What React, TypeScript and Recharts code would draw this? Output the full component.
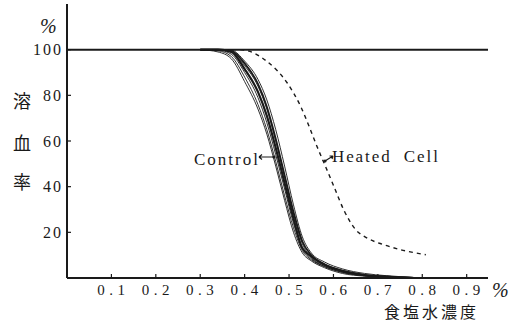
import { LineChart, Line, XAxis, YAxis, ReferenceLine } from 'recharts'

// salt concentration (%) sampled for the control curves
const conc = [0.3, 0.34, 0.37, 0.4, 0.43, 0.45, 0.47, 0.49, 0.51, 0.53, 0.55, 0.58, 0.62, 0.67, 0.72, 0.78]

// hemolysis (%) for each control run
const control1 = [100, 100, 99, 91.5, 81.5, 71, 57, 41.5, 26, 13, 9.5, 5.8, 3, 1.2, 0.5, 0]
const control2 = [100, 100, 99.5, 94, 85, 75, 61, 45, 29, 16, 10, 6, 3.2, 1.4, 0.6, 0]
const control3 = [100, 99.5, 97, 88, 76, 65, 51, 36, 22, 12, 8, 5, 2.5, 1, 0.3, 0]
const control4 = [100, 99, 96, 86, 74, 63, 49, 34, 20, 11, 7.5, 4.5, 2, 0.8, 0.2, 0]
const control5 = [100, 100, 99.8, 95, 87, 78, 65, 49, 32, 18, 11, 7, 4, 2, 1, 0.3]
const control6 = [100, 100, 99, 93, 84, 74, 60, 44, 28, 15, 9, 5.5, 3, 1.3, 0.8, 0.2]
const control7 = [100, 99.8, 98, 90, 79, 68, 54, 39, 24, 13, 8.5, 5, 2.5, 1, 0.4, 0]

// heated cells
const heatedConc = [0.3, 0.39, 0.45, 0.496, 0.526, 0.548, 0.563, 0.582, 0.601, 0.623, 0.65, 0.676, 0.713, 0.751, 0.808]
const heatedPct = [100, 100, 94.9, 85.4, 75.2, 65, 57.6, 48.9, 40.1, 29.9, 21.2, 17.5, 14.6, 12.4, 10.2]

const xTicks = [0.1, 0.2, 0.3, 0.4, 0.5, 0.6, 0.7, 0.8, 0.9]
const yTicks = [20, 40, 60, 80, 100]

const controls = [
  { values: control1, width: 2.2 },
  { values: control2, width: 1.8 },
  { values: control3, width: 0.9 },
  { values: control4, width: 0.9 },
  { values: control5, width: 0.9 },
  { values: control6, width: 0.9 },
  { values: control7, width: 0.9 },
]

const toRows = (xs: number[], ys: number[]) => xs.map((x, i) => ({ x, v: ys[i] }))

const ink = '#1a1a1a'
const serif = '"Liberation Serif", serif'
const cjk = '"Noto Sans CJK JP", sans-serif'

function XTick(props: any) {
  const { x, y, payload } = props
  return (
    <g>
      <line x1={x} x2={x} y1={y} y2={y - 4} stroke={ink} strokeWidth={1.2} />
      <text x={x + 2} y={y + 17} textAnchor="middle" fontFamily={serif} fontSize={15} letterSpacing={4.5} fill={ink}>
        {payload.value.toFixed(1)}
      </text>
    </g>
  )
}

function YTick(props: any) {
  const { x, y, payload } = props
  return (
    <g>
      <line x1={x} x2={x + 4} y1={y} y2={y} stroke={ink} strokeWidth={1.2} />
      <text x={x - 4} y={y + 5.5} textAnchor="end" fontFamily={serif} fontSize={16} letterSpacing={2} fill={ink}>
        {payload.value}
      </text>
    </g>
  )
}

export default function App() {
  return (
    <div style={{ position: 'absolute', left: 0, top: 0, width: 531, height: 322, background: '#fff' }}>
      <LineChart width={531} height={322} margin={{ top: 4, right: 43, left: 0, bottom: 0 }}>
        <XAxis
          type="number"
          dataKey="x"
          domain={[0, 0.948]}
          ticks={xTicks}
          height={44}
          tickSize={0}
          tickMargin={0}
          tickLine={false}
          tick={XTick}
          axisLine={{ stroke: ink, strokeWidth: 2 }}
          allowDataOverflow
        />
        <YAxis
          type="number"
          domain={[0, 120]}
          ticks={yTicks}
          width={67}
          tickSize={0}
          tickMargin={0}
          tickLine={false}
          tick={YTick}
          axisLine={{ stroke: ink, strokeWidth: 2 }}
        />
        <ReferenceLine y={100} stroke={ink} strokeWidth={2} />
        {controls.map((c, i) => (
          <Line
            key={i}
            data={toRows(conc, c.values)}
            dataKey="v"
            type="monotone"
            stroke={ink}
            strokeWidth={c.width}
            dot={false}
            isAnimationActive={false}
          />
        ))}
        <Line
          data={toRows(heatedConc, heatedPct)}
          dataKey="v"
          type="monotone"
          stroke={ink}
          strokeWidth={1.4}
          strokeDasharray="4 4"
          dot={false}
          isAnimationActive={false}
        />
      </LineChart>
      <svg width={531} height={322} style={{ position: 'absolute', left: 0, top: 0, pointerEvents: 'none' }}>
        <text x={40} y={33} fontFamily={serif} fontStyle="italic" fontSize={20} fill={ink}>%</text>
        <text x={492} y={297} fontFamily={serif} fontStyle="italic" fontSize={20} fill={ink}>%</text>
        <text x={13} y={108} fontFamily={cjk} fontSize={18} fill={ink}>溶</text>
        <text x={13} y={150} fontFamily={cjk} fontSize={18} fill={ink}>血</text>
        <text x={13} y={189} fontFamily={cjk} fontSize={18} fill={ink}>率</text>
        <text x={384} y={318} fontFamily={cjk} fontSize={16} letterSpacing={3} fill={ink}>食塩水濃度</text>
        <text x={194} y={165} fontFamily={serif} fontSize={17} letterSpacing={2} fill={ink}>Control</text>
        <text x={332} y={162} fontFamily={serif} fontSize={17} letterSpacing={1.9} fill={ink} style={{ whiteSpace: 'pre' }}>Heated  Cell</text>
        <g stroke={ink} strokeWidth={1.2} fill="none">
          <path d="M259 157 L274 157 M259 157 l3 -2.5 M259 157 l3 2.5" />
          <circle cx={274} cy={157} r={1} fill={ink} />
          <path d="M325 161 L333 156 M333 156 l-3.5 0 M333 156 l-1 3" />
          <circle cx={325} cy={161} r={1} fill={ink} />
        </g>
      </svg>
    </div>
  )
}
